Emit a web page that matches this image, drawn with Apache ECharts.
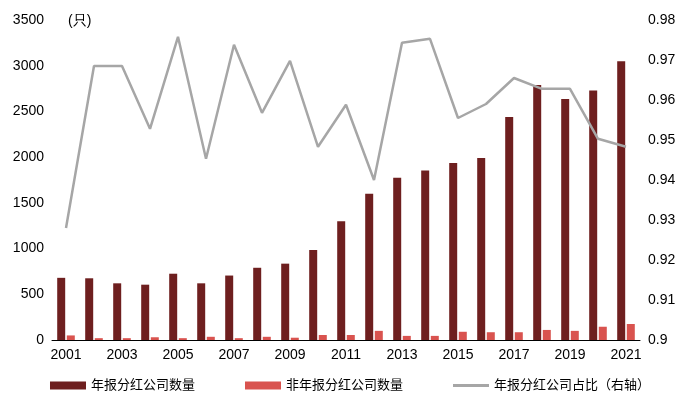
<!DOCTYPE html>
<html>
<head>
<meta charset="utf-8" />
<script src="https://cdn.jsdelivr.net/npm/echarts@6/dist/echarts.min.js"></script>
</head>
<body style="margin:0">
<div id="chart" style="width:700px;height:415px"></div>
<script>
var years = ["2001","2002","2003","2004","2005","2006","2007","2008","2009","2010","2011","2012","2013","2014","2015","2016","2017","2018","2019","2020","2021"];
var annual = [680,675,620,605,725,620,705,790,835,985,1300,1600,1775,1855,1935,1990,2440,2790,2635,2730,3050];
var nonAnnual = [50,20,20,30,20,35,20,35,25,55,55,100,45,45,90,85,85,110,100,145,175];
var ratio = [0.928,0.9685,0.9685,0.9528,0.9758,0.9453,0.9738,0.9568,0.9698,0.9483,0.9588,0.94,0.9743,0.9753,0.9555,0.959,0.9655,0.9628,0.9628,0.9503,0.9483];

var font = "Liberation Sans, Noto Sans CJK SC";
var chart = echarts.init(document.getElementById("chart"));
chart.setOption({
  textStyle: { fontFamily: font },
  grid: { left: 52, right: 60, top: 20, bottom: 75 },
  legend: {
    bottom: 18, itemGap: 50, itemWidth: 36, itemHeight: 8,
    textStyle: { fontSize: 13, color: "#000" },
    data: [
      { name: "年报分红公司数量", icon: "rect" },
      { name: "非年报分红公司数量", icon: "rect" },
      { name: "年报分红公司占比（右轴）", icon: "path://M0,0 L36,0 L36,3 L0,3 Z", itemStyle: { color: "#a6a6a6" } }
    ]
  },
  xAxis: {
    type: "category", data: years,
    axisTick: { show: false },
    axisLine: { lineStyle: { color: "#000" } },
    axisLabel: { interval: 1, color: "#000", fontSize: 14 }
  },
  yAxis: [
    { type: "value", min: 0, max: 3500, interval: 500, splitLine: { show: false },
      axisLine: { show: false }, axisLabel: { color: "#000", fontSize: 14, formatter: function (v) { return String(v); } } },
    { type: "value", min: 0.9, max: 0.98, interval: 0.01, splitLine: { show: false },
      axisLine: { show: false }, axisLabel: { color: "#000", fontSize: 14, formatter: function (v) { return String(+v.toFixed(2)); } } }
  ],
  graphic: [{ type: "text", left: 68, top: 14, style: { text: "(只)", fontSize: 14, fill: "#000" } }],
  series: [
    { name: "年报分红公司数量", type: "bar", data: annual, barWidth: 8, barGap: "20%",
      itemStyle: { color: "#6e1f1f" } },
    { name: "非年报分红公司数量", type: "bar", data: nonAnnual, barWidth: 8,
      itemStyle: { color: "#d9534f" } },
    { name: "年报分红公司占比（右轴）", type: "line", yAxisIndex: 1, data: ratio,
      symbol: "none", lineStyle: { color: "#a6a6a6", width: 2.5 }, itemStyle: { color: "#a6a6a6" } }
  ]
});
</script>
</body>
</html>
